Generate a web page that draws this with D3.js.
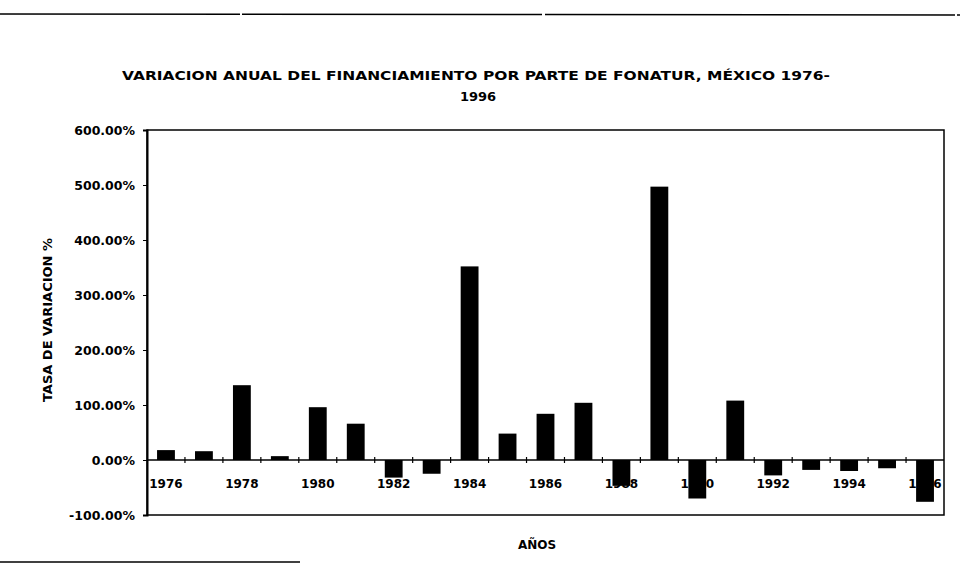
<!DOCTYPE html>
<html>
<head>
<meta charset="utf-8">
<script src="https://cdn.jsdelivr.net/npm/d3@7"></script>
<style>
  body { margin: 0; background: #fff; }
  svg { display: block; }
  text { font-family: "DejaVu Sans", "Liberation Sans", sans-serif; font-weight: bold; fill: #000; }
</style>
</head>
<body>
<script>
'use strict';

// years shown on the x axis
var years = d3.range(1976, 1997).map(String);
// annual variation of FONATUR financing, in percent
var variation = [18, 16, 136, 7, 96, 66, -32, -25, 352, 48, 84, 104, -47, 497, -70, 108, -28, -18, -20, -15, -76];
// y axis ticks
var yTicks = [-100, 0, 100, 200, 300, 400, 500, 600];
// only every other year gets a label
var xLabels = years.filter(function(d, i) { return i % 2 === 0; });

var titleLines = ["VARIACION ANUAL DEL FINANCIAMIENTO POR PARTE DE FONATUR, MÉXICO 1976-", "1996"];
var yTitle = "TASA DE VARIACION %";
var xTitle = "AÑOS";

var width = 960, height = 565;
var margin = {top: 130, right: 16, bottom: 50, left: 147};

var svg = d3.select("body")
  .append("svg")
  .attr("width", width)
  .attr("height", height);

// scan frame lines
svg.append("line")
  .attr("x1", 0).attr("x2", width)
  .attr("y1", 14).attr("y2", 15)
  .attr("stroke", "#000").attr("stroke-width", 1.5)
  .attr("stroke-dasharray", "240,2,300,3,410,2");
svg.append("line")
  .attr("x1", 0).attr("x2", 300)
  .attr("y1", 562).attr("y2", 562)
  .attr("stroke", "#000").attr("stroke-width", 1.5);

// title
svg.append("text")
  .attr("x", 476).attr("y", 80)
  .attr("text-anchor", "middle")
  .attr("font-size", 13)
  .attr("textLength", 708)
  .attr("lengthAdjust", "spacingAndGlyphs")
  .text(titleLines[0]);
svg.append("text")
  .attr("x", 478).attr("y", 101)
  .attr("text-anchor", "middle")
  .attr("font-size", 13)
  .text(titleLines[1]);

var innerW = width - margin.left - margin.right;
var innerH = height - margin.top - margin.bottom;
var g = svg.append("g").attr("transform", "translate(" + margin.left + "," + margin.top + ")");

var x = d3.scaleBand()
  .domain(years)
  .range([0, innerW])
  .paddingInner(0.53)
  .paddingOuter(0.265);

var y = d3.scaleLinear()
  .domain([-100, 600])
  .range([innerH, 0]);

// plot frame
g.append("rect")
  .attr("width", innerW)
  .attr("height", innerH)
  .attr("fill", "none")
  .attr("stroke", "#000")
  .attr("stroke-width", 1.5);

// bars
g.selectAll(".bar")
  .data(variation)
  .enter().append("rect")
  .attr("class", "bar")
  .attr("x", function(d, i) { return x(years[i]); })
  .attr("width", x.bandwidth())
  .attr("y", function(d) { return y(Math.max(0, d)); })
  .attr("height", function(d) { return Math.abs(y(d) - y(0)); })
  .attr("fill", "#000");

// y axis
var yAxis = g.append("g")
  .call(d3.axisLeft(y)
    .tickValues(yTicks)
    .tickSize(4)
    .tickPadding(8)
    .tickFormat(function(d) { return d3.format(".2f")(d).replace("−", "-") + "%"; }));
yAxis.select(".domain").attr("stroke-width", 2);
yAxis.selectAll("text").attr("font-size", 12.5).attr("font-family", null);

// zero axis with category ticks
var zero = g.append("g").attr("transform", "translate(0," + y(0) + ")");
zero.append("line")
  .attr("x1", 0).attr("x2", innerW)
  .attr("stroke", "#000").attr("stroke-width", 1.5);
zero.selectAll(".tick")
  .data(years.slice(1))
  .enter().append("line")
  .attr("x1", function(d) { return x(d) - x.step() * x.paddingInner() / 2; })
  .attr("x2", function(d) { return x(d) - x.step() * x.paddingInner() / 2; })
  .attr("y1", -3).attr("y2", 3)
  .attr("stroke", "#000").attr("stroke-width", 1.2);
zero.selectAll(".lbl")
  .data(xLabels)
  .enter().append("text")
  .attr("x", function(d) { return x(d) + x.bandwidth() / 2; })
  .attr("y", 28)
  .attr("text-anchor", "middle")
  .attr("font-size", 12)
  .text(function(d) { return d; });

// axis titles
svg.append("text")
  .attr("transform", "translate(52,320) rotate(-90)")
  .attr("text-anchor", "middle")
  .attr("font-size", 13)
  .text(yTitle);
svg.append("text")
  .attr("x", 537).attr("y", 549)
  .attr("text-anchor", "middle")
  .attr("font-size", 12)
  .text(xTitle);
</script>
</body>
</html>
